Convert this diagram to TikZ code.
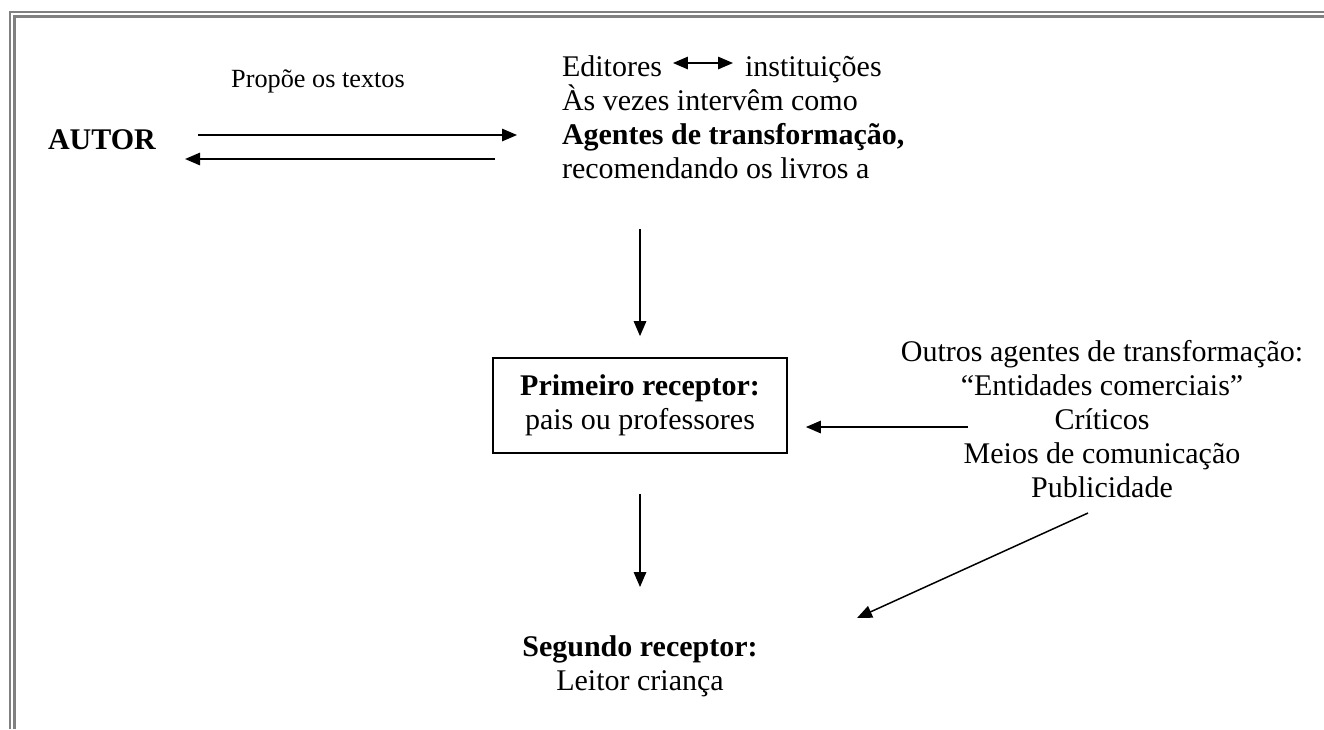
\documentclass[tikz,border=0pt]{standalone}
\usepackage{fontspec}
\setmainfont{Liberation Serif}
\usepackage{tikz}
\usetikzlibrary{arrows.meta,calc,positioning}
\tikzstyle{texto}=[
  font={\fontsize{12}{13.6}\selectfont},
  inner sep=0pt,
  outer sep=0pt,
]
\tikzstyle{rotulo}=[
  font={\fontsize{10.5}{12.5}\selectfont},
  inner sep=0pt,
]
\tikzstyle{caixa}=[
  draw=black,
  font={\fontsize{12}{13.6}\selectfont},
  align=center,
  line width=0.7pt,
  minimum width=117.6pt,
  minimum height=38pt,
  rectangle,
]
\tikzstyle{seta}=[
  color=black,
  draw=black,
  line width=0.6pt,
]
\tikzstyle{moldura}=[
  draw=black!50,
  line width=1pt,
]
\tikzset{
  >={Triangle[length=6pt,width=5pt]},
}
\begin{document}
\begin{tikzpicture}[x=0.4pt,y=-0.4pt]
  \useasboundingbox (0,0) rectangle (1324,729);
  %% frame
  \draw [moldura] (10,729) -- (10,12) -- (1324,12);
  \draw [moldura, line width=1.2pt] (14.5,729) -- (14.5,16.5) -- (1324,16.5);
  %%
  \node (autor) [texto, anchor=base west] at (48,149) {\textbf{AUTOR}};
  \node (propoe) [rotulo, anchor=base] at (318,87) {Propõe os textos};
  \node (editores) [texto, anchor=base west] at (562,76) {Editores};
  \node (instituicoes) [texto, anchor=base west] at (745,76) {instituições};
  \node (agentes) [texto, align=left, anchor=base west] at (562,178)
    {Às vezes intervêm como\\\textbf{Agentes de transformação,}\\recomendando os livros a};
  %%
  \node (primeiro) [caixa] at (640,405.5)
    {\textbf{Primeiro receptor:}\\pais ou professores};
  \node (outros) [texto, align=center, anchor=base] at (1102,497)
    {Outros agentes de transformação:\\“Entidades comerciais”\\Críticos\\Meios de comunicação\\Publicidade};
  \node (segundo) [texto, align=center, anchor=base] at (640,690)
    {\textbf{Segundo receptor:}\\Leitor criança};
  %%
  \draw [<->, seta] ($(editores.base east)+(11,-13)$) -- ($(instituicoes.base west)+(-12,-13)$);
  \draw [->, seta] ($(autor.base east)+(42,-14)$) -- ($(agentes.base west)+(-45,-43)$);
  \draw [->, seta] ($(agentes.base west)+(-67,-19)$) -- ($(autor.base east)+(29,10)$);
  \draw [->, seta] ($(primeiro.north)+(0,-128)$) -- ($(primeiro.north)+(0,-21)$);
  \draw [->, seta] ($(primeiro.east)+(180,21.5)$) -- ($(primeiro.east)+(18,21.5)$);
  \draw [->, seta] ($(primeiro.south)+(0,40)$) -- ($(segundo.base)+(0,-103)$);
  \draw [->, seta] ($(outros.base)+(-14,16)$) -- ($(segundo.base)+(217,-72)$);
\end{tikzpicture}
\end{document}
